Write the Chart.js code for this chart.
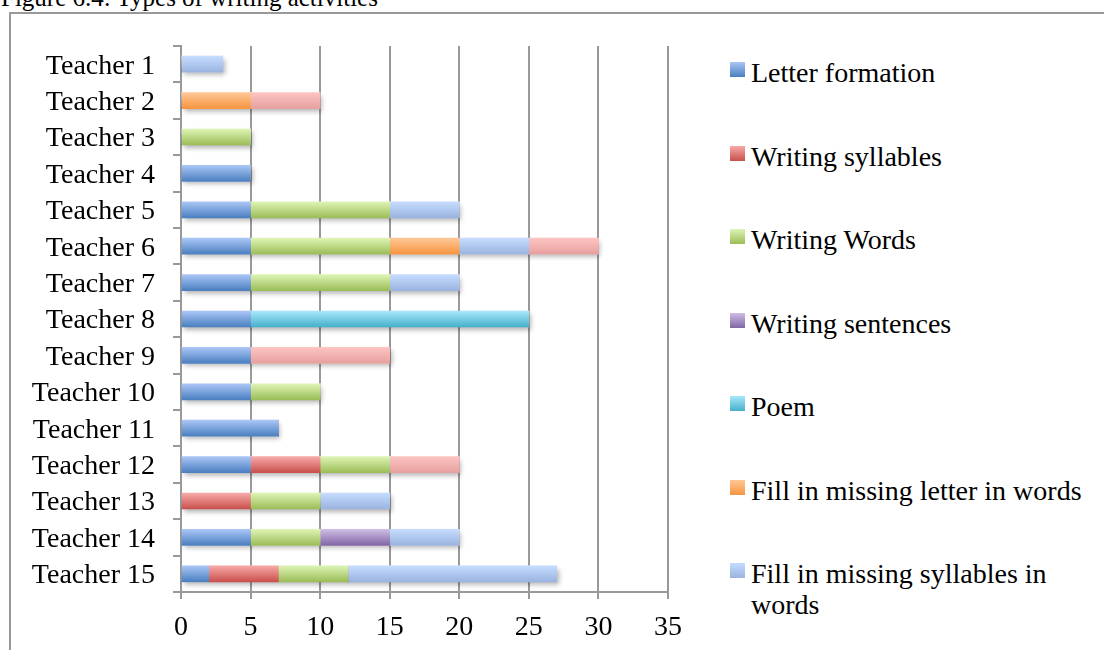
<!DOCTYPE html>
<html>
<head>
<meta charset="utf-8">
<script src="https://cdn.jsdelivr.net/npm/chart.js@4.4.1/dist/chart.umd.min.js"></script>
<style>
  body { margin: 0; width: 1104px; height: 650px; overflow: hidden; background: #fff; position: relative; font-family: 'Liberation Serif', serif; color: #000; }
  #title { position: absolute; left: 1px; top: -15px; font-size: 25px; line-height: 25px; white-space: nowrap; }
  #frame { position: absolute; left: 9px; top: 12px; width: 1200px; height: 700px; border: 2px solid #999; }
  #chart { position: absolute; left: 0; top: 0; }
  .item { position: absolute; left: 730px; }
  .box { position: absolute; left: 0; top: 0; width: 15px; height: 15px; }
  .txt { position: absolute; left: 21px; top: -5px; width: 345px; font-size: 28px; line-height: 31px; }
</style>
</head>
<body>
<div id="title">Figure 6.4: Types of writing activities</div>
<div id="frame"></div>
<canvas id="chart" width="700" height="650"></canvas>
<div id="legend"></div>
<script>
const teachers = ['Teacher 1', 'Teacher 2', 'Teacher 3', 'Teacher 4', 'Teacher 5', 'Teacher 6', 'Teacher 7', 'Teacher 8',
    'Teacher 9', 'Teacher 10', 'Teacher 11', 'Teacher 12', 'Teacher 13', 'Teacher 14', 'Teacher 15'];

const letterFormation  = [0, 0, 0, 5, 5, 5, 5, 5, 5, 5, 7, 5, 0, 5, 2];
const writingSyllables = [0, 0, 0, 0, 0, 0, 0, 0, 0, 0, 0, 5, 5, 0, 5];
const writingWords     = [0, 0, 5, 0, 10, 10, 10, 0, 0, 5, 0, 5, 5, 5, 5];
const writingSentences = [0, 0, 0, 0, 0, 0, 0, 0, 0, 0, 0, 0, 0, 5, 0];
const poem             = [0, 0, 0, 0, 0, 0, 0, 20, 0, 0, 0, 0, 0, 0, 0];
const fillLetter       = [0, 5, 0, 0, 0, 5, 0, 0, 0, 0, 0, 0, 0, 0, 0];
const fillSyllables    = [3, 0, 0, 0, 5, 5, 5, 0, 0, 0, 0, 0, 5, 5, 15];
const otherActivity    = [0, 5, 0, 0, 0, 5, 0, 0, 10, 0, 0, 5, 0, 0, 0]; // pink series, not in the visible legend

const xMax = 35;
const xStep = 5;

const series = [
    { label: 'Letter formation', data: letterFormation, top: '#aac6f6', bottom: '#4a7fc0' },
    { label: 'Writing syllables', data: writingSyllables, top: '#f6aaa8', bottom: '#c9504c' },
    { label: 'Writing Words', data: writingWords, top: '#def4b4', bottom: '#9bbd58' },
    { label: 'Writing sentences', data: writingSentences, top: '#cdbde4', bottom: '#8266a6' },
    { label: 'Poem', data: poem, top: '#a8e8fa', bottom: '#46b0cc' },
    { label: 'Fill in missing letter in words', data: fillLetter, top: '#ffc796', bottom: '#f79540' },
    { label: 'Fill in missing syllables in words', data: fillSyllables, top: '#c6dcff', bottom: '#9ab4e0' },
    { label: 'Other', data: otherActivity, top: '#fdc4c2', bottom: '#e6a09e', hidden: true }
];

const barSize = 16;
const font = { family: 'Liberation Serif', size: 28 };

function barFill(top, bottom) {
    return function (c) {
        const chart = c.chart;
        const y = chart.scales.y;
        if (!chart.chartArea || !y || c.dataIndex === undefined) return bottom;
        const mid = y.getPixelForValue(c.dataIndex);
        const g = chart.ctx.createLinearGradient(0, mid - barSize / 2, 0, mid + barSize / 2);
        g.addColorStop(0, top);
        g.addColorStop(1, bottom);
        return g;
    };
}

// soft drop shadow behind each whole stack
const barShadow = {
    id: 'barShadow',
    beforeDatasetsDraw(chart) {
        const ctx = chart.ctx;
        const metas = chart.getSortedVisibleDatasetMetas();
        ctx.save();
        ctx.shadowColor = 'rgba(0,0,0,0.3)';
        ctx.shadowBlur = 5;
        ctx.shadowOffsetX = 2;
        ctx.shadowOffsetY = 3;
        ctx.fillStyle = '#fff';
        teachers.forEach((t, i) => {
            let lo = Infinity, hi = -Infinity, mid = 0, h = 0;
            metas.forEach(m => {
                const el = m.data[i];
                if (!el) return;
                const a = Math.min(el.x, el.base), b = Math.max(el.x, el.base);
                if (b - a < 0.5) return;
                lo = Math.min(lo, a); hi = Math.max(hi, b); mid = el.y; h = el.height;
            });
            if (hi > lo) ctx.fillRect(lo, mid - h / 2, hi - lo, h);
        });
        ctx.restore();
    }
};

new Chart(document.getElementById('chart'), {
    type: 'bar',
    data: {
        labels: teachers,
        datasets: series.map(s => ({
            label: s.label,
            data: s.data,
            backgroundColor: barFill(s.top, s.bottom),
            borderWidth: 0,
            barThickness: barSize
        }))
    },
    options: {
        indexAxis: 'y',
        responsive: false,
        animation: false,
        layout: { padding: { left: 0, top: 46, right: 32, bottom: 0 } },
        plugins: { legend: { display: false }, tooltip: { enabled: false } },
        scales: {
            x: {
                stacked: true, min: 0, max: xMax,
                ticks: { stepSize: xStep, color: '#000', font: font, padding: 12, autoSkip: false },
                grid: { color: '#999', lineWidth: 2, tickLength: 7 },
                border: { color: '#999', width: 2 },
                afterFit(s) { s.height = 58; }
            },
            y: {
                stacked: true,
                ticks: { color: '#000', font: font, padding: 18, labelOffset: 2, autoSkip: false },
                grid: { offset: true, drawOnChartArea: false, color: '#999', lineWidth: 2, tickLength: 8 },
                border: { color: '#999', width: 2 },
                afterFit(s) { s.width = 181; }
            }
        }
    },
    plugins: [barShadow]
});

// legend on the right, built from the series list
const legend = document.getElementById('legend');
series.filter(s => !s.hidden).forEach((s, i) => {
    const item = document.createElement('div');
    item.className = 'item';
    item.style.top = (62 + i * 83.5) + 'px';
    const box = document.createElement('div');
    box.className = 'box';
    box.style.background = 'linear-gradient(' + s.top + ',' + s.bottom + ')';
    const txt = document.createElement('div');
    txt.className = 'txt';
    txt.textContent = s.label;
    item.appendChild(box);
    item.appendChild(txt);
    legend.appendChild(item);
});
</script>
</body>
</html>
